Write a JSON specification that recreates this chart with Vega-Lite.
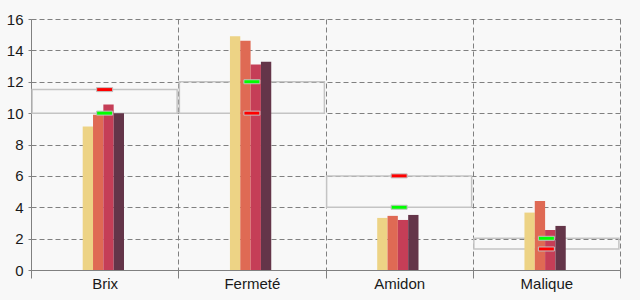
{
  "$schema": "https://vega.github.io/schema/vega-lite/v6.json",
  "width": 589,
  "height": 251,
  "autosize": "none",
  "padding": {"left": 31, "top": 19, "right": 20, "bottom": 30},
  "background": "#f8f8f8",
  "config": {
    "view": {"stroke": null},
    "font": "Liberation Sans",
    "axis": {
      "labelFont": "Liberation Sans",
      "labelFontSize": 15,
      "labelColor": "#1a1a1a",
      "domainColor": "#808080",
      "tickColor": "#808080",
      "gridColor": "#808080",
      "gridDash": [5, 3],
      "gridOpacity": 1,
      "title": null
    },
    "axisY": {"tickSize": 3, "labelPadding": 5, "values": [0, 2, 4, 6, 8, 10, 12, 14, 16], "labelOverlap": false}
  },
  "datasets": {
    "bars": [
      {"cat": "Brix", "serie": "1", "v": 9.15},
      {"cat": "Brix", "serie": "2", "v": 9.9},
      {"cat": "Brix", "serie": "3", "v": 10.55},
      {"cat": "Brix", "serie": "4", "v": 10.0},
      {"cat": "Fermeté", "serie": "1", "v": 14.9},
      {"cat": "Fermeté", "serie": "2", "v": 14.62},
      {"cat": "Fermeté", "serie": "3", "v": 13.1},
      {"cat": "Fermeté", "serie": "4", "v": 13.28},
      {"cat": "Amidon", "serie": "1", "v": 3.32},
      {"cat": "Amidon", "serie": "2", "v": 3.45},
      {"cat": "Amidon", "serie": "3", "v": 3.19},
      {"cat": "Amidon", "serie": "4", "v": 3.51},
      {"cat": "Malique", "serie": "1", "v": 3.66},
      {"cat": "Malique", "serie": "2", "v": 4.4},
      {"cat": "Malique", "serie": "3", "v": 2.55},
      {"cat": "Malique", "serie": "4", "v": 2.81}
    ],
    "marks": [
      {"cat": "Brix", "green": 10.0, "red": 11.5},
      {"cat": "Fermeté", "green": 12.0, "red": 10.0},
      {"cat": "Amidon", "green": 4.0, "red": 6.0},
      {"cat": "Malique", "green": 2.02, "red": 1.34}
    ]
  },
  "encoding": {
    "x": {
      "field": "cat",
      "type": "nominal",
      "sort": ["Brix", "Fermeté", "Amidon", "Malique"],
      "scale": {"paddingInner": 0, "paddingOuter": 0},
      "axis": {
        "labelAngle": 0,
        "tickBand": "extent",
        "tickSize": 8,
        "labelPadding": -2,
        "grid": true,
        "domain": true
      }
    }
  },
  "layer": [
    {
      "data": {"name": "marks"},
      "mark": {"type": "bar", "fill": null, "fillOpacity": 0, "stroke": "#c4c4c4", "strokeWidth": 1.5, "width": {"band": 0.985}},
      "encoding": {
        "y": {"field": "green", "type": "quantitative", "scale": {"domain": [0, 16]}, "axis": {"values": [0, 2, 4, 6, 8, 10, 12, 14, 16], "grid": true}},
        "y2": {"field": "red"}
      }
    },
    {
      "data": {"name": "bars"},
      "mark": {"type": "bar"},
      "encoding": {
        "xOffset": {"field": "serie", "type": "nominal", "scale": {"paddingInner": 0, "paddingOuter": 0, "range": [51.7, 93]}},
        "y": {"field": "v", "type": "quantitative", "axis": {"values": [0, 2, 4, 6, 8, 10, 12, 14, 16], "grid": true}},
        "color": {
          "field": "serie",
          "type": "nominal",
          "scale": {"domain": ["1", "2", "3", "4"], "range": ["#edd385", "#df6a54", "#c53e57", "#643549"]},
          "legend": null
        }
      }
    },
    {
      "data": {"name": "marks"},
      "mark": {"type": "tick", "orient": "horizontal", "size": 16, "thickness": 4, "color": "#00ff00", "stroke": "#c0c0c0", "strokeWidth": 1, "opacity": 1},
      "encoding": {"y": {"field": "green", "type": "quantitative", "axis": {"values": [0, 2, 4, 6, 8, 10, 12, 14, 16], "grid": true}}}
    },
    {
      "data": {"name": "marks"},
      "mark": {"type": "tick", "orient": "horizontal", "size": 16, "thickness": 4, "color": "#ff0000", "stroke": "#c0c0c0", "strokeWidth": 1, "opacity": 1},
      "encoding": {"y": {"field": "red", "type": "quantitative", "axis": {"values": [0, 2, 4, 6, 8, 10, 12, 14, 16], "grid": true}}}
    }
  ]
}
